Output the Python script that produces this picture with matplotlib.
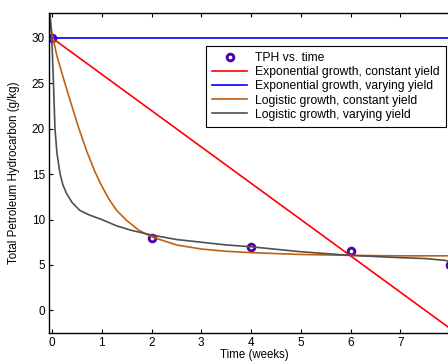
import matplotlib
matplotlib.use('Agg')
import matplotlib.pyplot as plt

plt.rcParams['font.family'] = ['Liberation Sans', 'DejaVu Sans']

# measured TPH
t_obs = [0, 2, 4, 6, 8]
tph_obs = [30, 8.0, 7.0, 6.5, 5.0]

# exponential growth, constant yield
t_exp_c = [0, 8.3]
tph_exp_c = [30, -3.2]

# exponential growth, varying yield
t_exp_v = [0, 8.3]
tph_exp_v = [30, 30]

# logistic growth, constant yield
t_log_c = [-0.06, 0.0, 0.1, 0.26, 0.4, 0.53, 0.7, 0.86, 1.0, 1.15, 1.3, 1.5,
           1.75, 2.0, 2.5, 3.0, 3.5, 4.0, 5.0, 6.0, 7.0, 8.3]
tph_log_c = [32.8, 30.5, 28.0, 25.0, 22.5, 20.2, 17.5, 15.3, 13.7, 12.2, 11.0, 9.9,
             8.8, 8.1, 7.2, 6.75, 6.5, 6.35, 6.15, 6.05, 6.0, 6.0]

# logistic growth, varying yield
t_log_v = [-0.04, 0.0, 0.03, 0.06, 0.1, 0.16, 0.22, 0.29, 0.4, 0.56, 0.75, 1.0,
           1.3, 1.6, 2.0, 2.5, 3.0, 3.5, 4.0, 5.0, 6.0, 7.0, 7.5, 7.9, 8.3]
tph_log_v = [32.8, 29.5, 25.0, 20.0, 17.3, 15.1, 13.8, 12.9, 11.9, 11.0, 10.5, 10.0,
             9.3, 8.8, 8.3, 7.8, 7.5, 7.2, 7.0, 6.45, 6.05, 5.8, 5.7, 5.5, 5.0]

fig = plt.figure(figsize=(4.48, 3.62), dpi=100)
ax = fig.add_axes([49/448, 1-333/362, (460-49)/448, (333-13)/362])

ax.plot(t_obs, tph_obs, 'o', color='#5000b0', mfc='white', mec='#5000b0',
        ms=4.8, mew=2.1, label='TPH vs. time')
ax.plot(t_exp_c, tph_exp_c, color='#ff0000', lw=1.2, label='Exponential growth, constant yield')
ax.plot(t_exp_v, tph_exp_v, color='#0000ff', lw=1.2, label='Exponential growth, varying yield')
ax.plot(t_log_c, tph_log_c, color='#c06010', lw=1.2, label='Logistic growth, constant yield')
ax.plot(t_log_v, tph_log_v, color='#505050', lw=1.2, label='Logistic growth, varying yield')

ax.set_xlim(-0.06, 8.2)
ax.set_ylim(-2.5, 32.75)
ax.set_xticks(range(0, 8))
ax.set_yticks(range(0, 31, 5))
ax.tick_params(direction='in', length=3, width=0.8, labelsize=8.5, top=True, right=True, pad=3)
for s in ax.spines.values():
    s.set_linewidth(1.0)

ax.set_xlabel('Time (weeks)', fontsize=8.3, labelpad=0)
ax.set_ylabel('Total Petroleum Hydrocarbon (g/kg)', fontsize=8.3, labelpad=8)

leg = ax.legend(loc='upper left', bbox_to_anchor=(0.382, 0.897), fontsize=8.7,
                frameon=True, fancybox=False, edgecolor='black', framealpha=1,
                borderpad=0.5, labelspacing=0.18, handlelength=2.9, handletextpad=0.65,
                borderaxespad=0)
leg.get_frame().set_linewidth(0.8)

fig.savefig('out.png', dpi=100)
